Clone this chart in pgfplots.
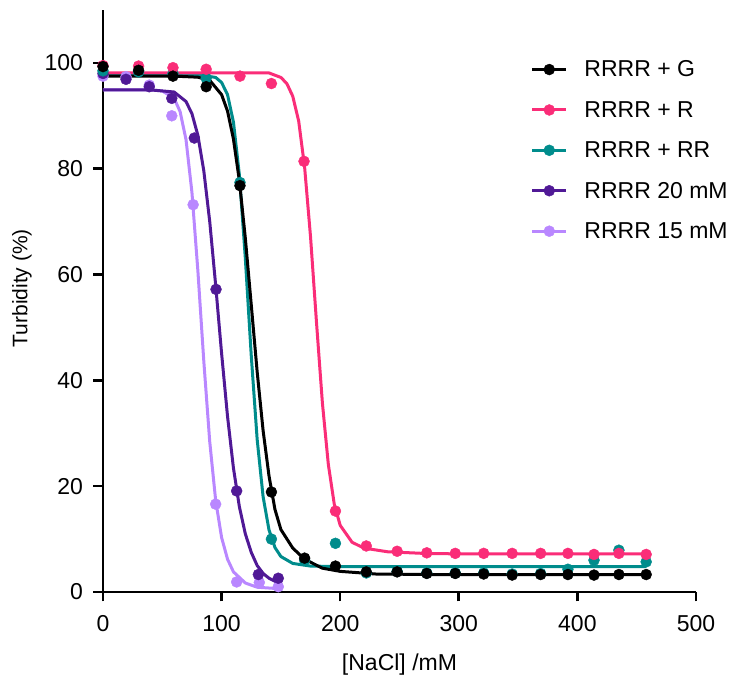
\documentclass[border=0pt]{standalone}
\usepackage{fontspec}
\setmainfont{Liberation Sans}
\usepackage{pgfplots}
\pgfplotsset{compat=1.18}
\definecolor{cG}{RGB}{0,0,0}
\definecolor{cR}{RGB}{250,45,120}
\definecolor{cRR}{RGB}{0,140,140}
\definecolor{cPa}{RGB}{80,25,150}
\definecolor{cPb}{RGB}{185,135,255}
\pgfplotsset{
  curve/.style={color=#1, line width=3pt, no markers, forget plot, line join=round},
  pts/.style={only marks, mark=*, mark size=5.5pt, color=#1, mark options={draw=none, fill=#1},
    legend image code/.code={\draw[color=#1, line width=3pt] (0pt,0pt) -- (34pt,0pt); \fill[color=#1] (17pt,0pt) circle (5.5pt); \path (50pt,0pt);}},
}
\begin{document}
\begin{tikzpicture}
\useasboundingbox (-103pt,-85pt) rectangle (631pt,592pt);
\begin{axis}[
  at={(0pt,0pt)}, anchor=south west,
  scale only axis, width=593pt, height=582pt,
  xmin=0, xmax=500, ymin=0, ymax=110,
  axis lines=left,
  axis line style={-, line width=2.6pt},
  xtick={0,100,...,500}, ytick={0,20,...,100},
  tick align=outside, major tick length=9.5pt,
  tick style={line width=2.6pt, black},
  /pgf/number format/assume math mode=true,
  tick label style={font=\fontsize{23}{27}\selectfont},
  yticklabel style={xshift=-7pt},
  xticklabel style={yshift=-10pt},
  label style={font=\fontsize{23}{27}\selectfont},
  xlabel={[NaCl] /mM},
  ylabel={Turbidity (\%)},
  xlabel style={at={(axis description cs:0.5,-0.1254)}, anchor=center},
  ylabel style={at={(axis description cs:-0.1366,0.522)}, anchor=center, font=\fontsize{21}{25}\selectfont},
  clip=false,
  reverse legend,
  legend cell align=left,
  legend style={at={(axis description cs:0.716,0.92)}, anchor=north west, draw=none, fill=none,
    font=\fontsize{23}{27}\selectfont, row sep=19pt},
]
% fitted curves
\addplot[curve=cPb] coordinates {(0,94.9)(40,94.9)(50,94.7)(60,93.3)(65,90.8)(70,85.5)(75,75.5)(80,60.7)(85,43.6)(90,28.4)(95,17.3)(100,10.3)(105,6.2)(110,3.8)(120,1.7)(130,0.9)(150,0.6)};
\addplot[curve=cPa] coordinates {(0,94.9)(40,94.9)(60,94.5)(70,92.7)(75,90.4)(80,86.3)(85,79.6)(90,70.0)(95,58.0)(100,45.1)(105,33.2)(110,23.4)(115,16.1)(120,11.0)(125,7.5)(130,5.0)(135,3.5)(140,2.6)(148,1.7)};
\addplot[curve=cRR] coordinates {(0,97.8)(80,97.8)(95,97.25)(100,96.3)(105,94.0)(110,88.8)(115,78.8)(120,63.1)(125,44.7)(130,28.8)(135,18.0)(140,11.7)(145,8.4)(150,6.7)(160,5.4)(175,4.9)(200,4.8)(458,4.8)};
\addplot[curve=cR] coordinates {(0,98.1)(140,98.1)(150,97.25)(155,96.1)(160,93.7)(165,89.0)(170,80.3)(175,67.1)(180,51.0)(185,35.7)(190,24.1)(195,16.6)(200,12.6)(210,9.4)(220,8.3)(240,7.6)(270,7.3)(300,7.2)(458,7.2)};
\addplot[curve=cG] coordinates {(0,97.5)(60,97.5)(80,97.3)(90,96.7)(100,94.0)(105,90.9)(110,85.6)(115,77.7)(120,66.9)(125,54.3)(130,41.6)(135,30.5)(140,21.9)(145,15.6)(150,11.8)(160,8.3)(170,6.2)(185,4.5)(200,3.9)(230,3.4)(280,3.3)(458,3.3)};
% data points
\addplot[pts=cPb] coordinates {(0,97.5)(19.4,97.4)(39,95.8)(58,90.0)(76,73.2)(95,16.6)(112.7,1.9)(131.8,1.8)(147.8,1.0)};
\addlegendentry{RRRR 15 mM}
\addplot[pts=cPa] coordinates {(0,98.0)(19.4,96.9)(39,95.5)(58,93.3)(77,85.8)(95.3,57.2)(112.7,19.1)(131,3.3)(147.8,2.6)};
\addlegendentry{RRRR 20 mM}
\addplot[pts=cRR] coordinates {(0,98.5)(30,98.3)(59,98.0)(87,97.1)(115.5,77.4)(142,10.0)(170,6.0)(196,9.2)(222,3.6)(248,3.9)(273,3.6)(297,3.6)(321,3.6)(345,3.4)(369,3.5)(392,4.3)(414,6.0)(435,7.9)(458,5.7)};
\addlegendentry{RRRR + RR}
\addplot[pts=cR] coordinates {(0,99.5)(30,99.4)(59,99.1)(87,98.8)(115.5,97.5)(142,96.1)(169.5,81.4)(196,15.3)(222,8.7)(248,7.7)(273,7.4)(297,7.3)(321,7.3)(345,7.3)(369,7.3)(392,7.3)(414,7.1)(435,7.3)(458,7.1)};
\addlegendentry{RRRR + R}
\addplot[pts=cG] coordinates {(0,99.3)(30,98.6)(59,97.5)(87,95.5)(115.5,76.8)(142,18.9)(170,6.4)(196,4.9)(222,3.8)(248,3.8)(273,3.5)(297,3.5)(321,3.4)(345,3.2)(369,3.3)(392,3.3)(414,3.2)(435,3.3)(458,3.3)};
\addlegendentry{RRRR + G}
\end{axis}
\end{tikzpicture}
\end{document}
